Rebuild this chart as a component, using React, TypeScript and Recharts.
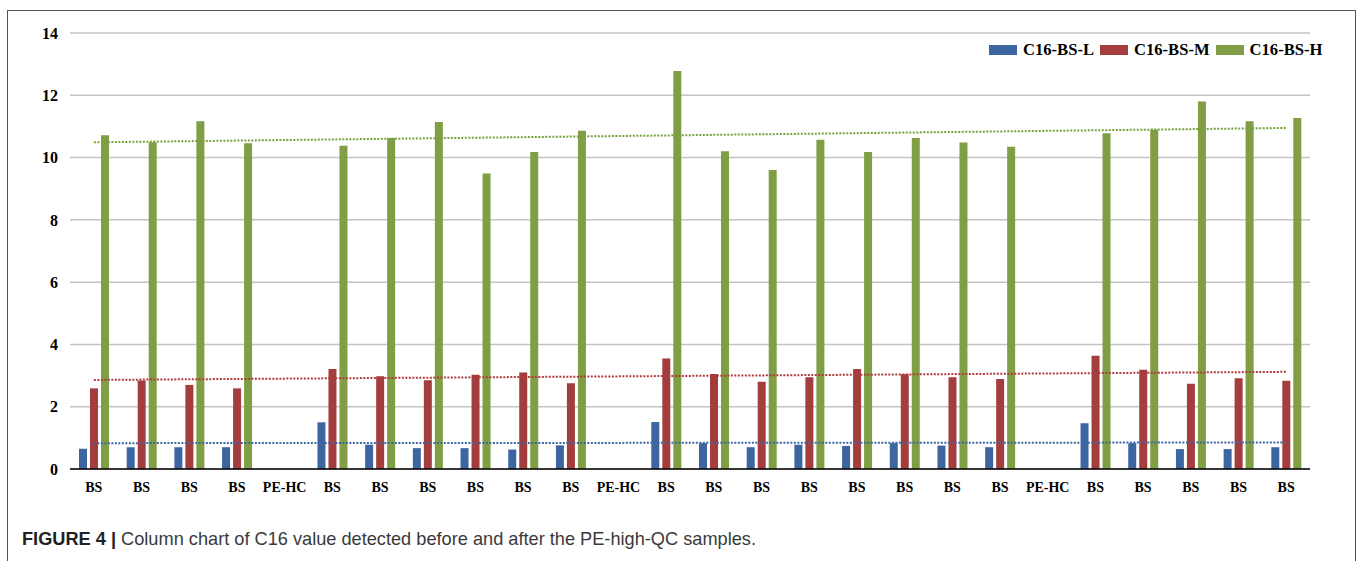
import React from 'react';
import {
  ComposedChart,
  Bar,
  Line,
  XAxis,
  YAxis,
  CartesianGrid,
  Legend
} from 'recharts';

// sample labels along the x axis
const categories = [
  'BS', 'BS', 'BS', 'BS', 'PE-HC',
  'BS', 'BS', 'BS', 'BS', 'BS', 'BS', 'PE-HC',
  'BS', 'BS', 'BS', 'BS', 'BS', 'BS', 'BS', 'BS', 'PE-HC',
  'BS', 'BS', 'BS', 'BS', 'BS'
];

// C16 values per sample (PE-HC samples have no value)
const lowValues = [0.65, 0.70, 0.70, 0.70, null, 1.50, 0.78, 0.67, 0.67, 0.63, 0.76, null, 1.51, 0.83, 0.70, 0.78, 0.74, 0.83, 0.75, 0.70, null, 1.47, 0.83, 0.64, 0.64, 0.70];
const midValues = [2.59, 2.84, 2.70, 2.59, null, 3.21, 2.98, 2.85, 3.03, 3.10, 2.75, null, 3.55, 3.05, 2.80, 2.95, 3.21, 3.04, 2.95, 2.89, null, 3.64, 3.19, 2.74, 2.91, 2.83];
const highValues = [10.72, 10.49, 11.17, 10.46, null, 10.38, 10.63, 11.14, 9.49, 10.18, 10.86, null, 12.78, 10.20, 9.60, 10.57, 10.18, 10.63, 10.48, 10.35, null, 10.78, 10.89, 11.80, 11.17, 11.27];

// linear trend lines, start / end
const lowTrend = [0.83, 0.85];
const midTrend = [2.86, 3.12];
const highTrend = [10.49, 10.95];

const yTicks = [0, 2, 4, 6, 8, 10, 12, 14];

const seriesNames = ['C16-BS-L', 'C16-BS-M', 'C16-BS-H'];
const COLORS = ['#3d66a1', '#a43d3d', '#7f9e45'];

const last = categories.length - 1;
const data = categories.map((label, i) => ({
  label,
  low: lowValues[i],
  mid: midValues[i],
  high: highValues[i],
  lowTrend: i === 0 ? lowTrend[0] : i === last ? lowTrend[1] : null,
  midTrend: i === 0 ? midTrend[0] : i === last ? midTrend[1] : null,
  highTrend: i === 0 ? highTrend[0] : i === last ? highTrend[1] : null
}));

const serif = '"Liberation Serif", "Times New Roman", serif';

const LegendContent = () => (
  <div style={{ display: 'flex', alignItems: 'center', fontFamily: serif, fontWeight: 700, fontSize: 16.6, color: '#000', whiteSpace: 'nowrap' }}>
    {seriesNames.map((name, i) => (
      <div key={name} style={{ display: 'flex', alignItems: 'center', marginRight: 6 }}>
        <span style={{ display: 'inline-block', width: 28, height: 10, background: COLORS[i], marginRight: 6 }}></span>
        <span>{name}</span>
      </div>
    ))}
  </div>
);

export default function App() {
  return (
    <div style={{ position: 'relative', width: 1360, height: 561, overflow: 'hidden', background: '#fff' }}>
      <style>{`body{margin:0;overflow:hidden}`}</style>
      {/* figure frame, bottom edge runs off the page */}
      <div style={{ position: 'absolute', left: 7, top: 10, width: 1347, height: 560, borderTop: '1.5px solid #555', borderLeft: '1.5px solid #555', borderRight: '1.5px solid #555' }} />

      <div style={{ position: 'absolute', left: 0, top: 0 }}>
        <ComposedChart
          width={1360}
          height={499}
          data={data}
          margin={{ top: 33, right: 50, left: 0, bottom: 0 }}
          barSize={8}
          barGap={3}
        >
          <CartesianGrid vertical={false} stroke="#c4c4c4" strokeWidth={1.5} />
          <XAxis
            dataKey="label"
            interval={0}
            height={30}
            tickLine={false}
            tickMargin={7}
            axisLine={{ stroke: '#000', strokeWidth: 1.5 }}
            tick={{ fill: '#000', fontSize: 14, fontWeight: 700, fontFamily: serif }}
          />
          <YAxis
            width={70}
            domain={[0, 14]}
            ticks={yTicks}
            axisLine={false}
            tickLine={false}
            tickSize={6}
            tickMargin={6}
            tick={{ fill: '#000', fontSize: 16, fontWeight: 700, fontFamily: serif }}
          />
          <Legend
            verticalAlign="middle"
            align="center"
            content={<LegendContent />}
            wrapperStyle={{ position: 'absolute', top: 40, left: 989, width: 'auto' }}
          />

          <Bar dataKey="low" name={seriesNames[0]} fill={COLORS[0]} isAnimationActive={false} />
          <Bar dataKey="mid" name={seriesNames[1]} fill={COLORS[1]} isAnimationActive={false} />
          <Bar dataKey="high" name={seriesNames[2]} fill={COLORS[2]} isAnimationActive={false} />

          {/* dotted linear trend lines */}
          <Line dataKey="lowTrend" type="linear" stroke="#3d66a1" strokeWidth={2} strokeDasharray="2 1.5" dot={false} connectNulls legendType="none" isAnimationActive={false} />
          <Line dataKey="midTrend" type="linear" stroke="#b03a3a" strokeWidth={2} strokeDasharray="2 1.5" dot={false} connectNulls legendType="none" isAnimationActive={false} />
          <Line dataKey="highTrend" type="linear" stroke="#75a23a" strokeWidth={2} strokeDasharray="2 1.5" dot={false} connectNulls legendType="none" isAnimationActive={false} />
        </ComposedChart>
      </div>

      <div style={{ position: 'absolute', left: 22, top: 529, fontFamily: '"Liberation Sans", Arial, sans-serif', fontSize: 18.2, color: '#3a3a3a', whiteSpace: 'nowrap' }}>
        <span style={{ fontWeight: 700, color: '#222' }}>FIGURE 4 | </span>
        Column chart of C16 value detected before and after the PE-high-QC samples.
      </div>
    </div>
  );
}
